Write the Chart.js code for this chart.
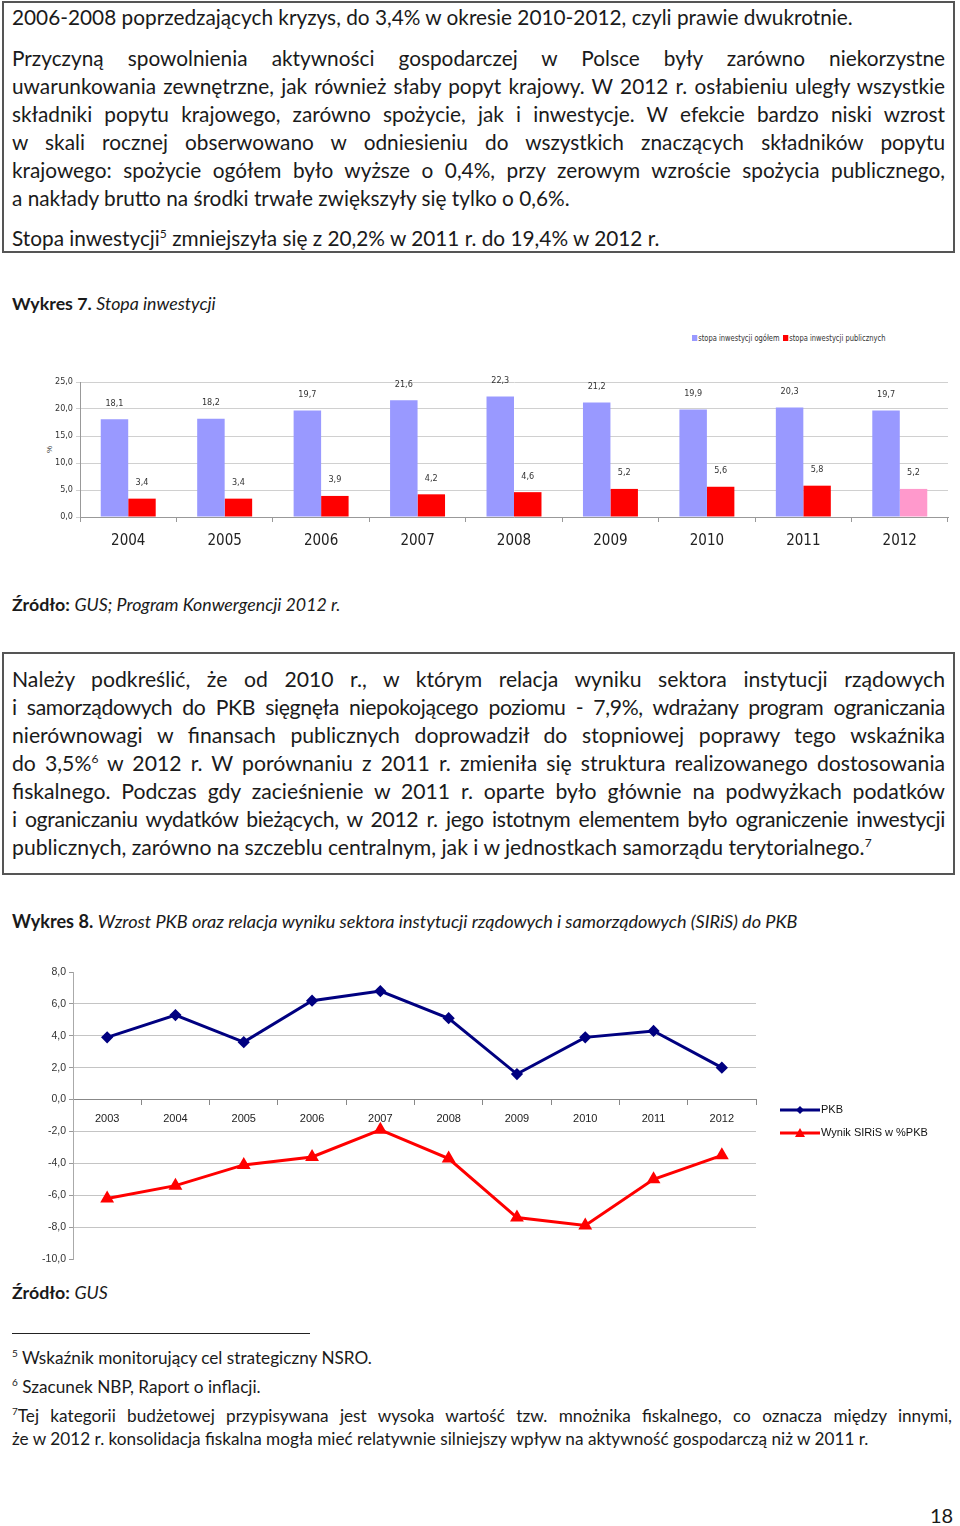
<!DOCTYPE html>
<html lang="pl">
<head>
<meta charset="utf-8">
<title>Wykres 7 i 8</title>
<script src="https://cdn.jsdelivr.net/npm/chart.js@4.4.1/dist/chart.umd.min.js"></script>
<style>
  body { margin: 0; background: #fff; }
  #page { position: relative; width: 960px; height: 1526px; overflow: hidden; font-family: Lato, "Open Sans", sans-serif; color: #1a1a1a; }
  .box { position: absolute; left: 2px; width: 953px; border: 2px solid #555; box-sizing: border-box; }
  .ln { position: absolute; left: 12px; width: 933px; font-size: 20.8px; line-height: 28px; white-space: nowrap; }
  .b2 { font-size: 21.2px; }
  .j { text-align: justify; text-align-last: justify; white-space: normal; }
  .tight { letter-spacing: -0.35px; }
  .ln sup { font-size: 12px; line-height: 0; vertical-align: 8px; }
  .cap { position: absolute; left: 12px; font-size: 17.8px; line-height: 22px; white-space: nowrap; }
  .cap.w8 { font-size: 18.1px; }
  .cap b { font-weight: bold; }
  .cap i { font-style: italic; }
  .fn { position: absolute; left: 12px; width: 940px; font-size: 17.2px; line-height: 22px; white-space: nowrap; }
  .fn sup { font-size: 10px; line-height: 0; vertical-align: 7px; }
  .chartbox { position: absolute; left: 0; width: 960px; }
  .lg1 { position: absolute; top: 333px; font-family: "Liberation Sans Narrow", "DejaVu Sans Condensed", sans-serif; font-size: 8.5px; line-height: 10px; color: #333; white-space: nowrap; transform: scaleX(0.88); transform-origin: left center; }
  .lg1 span.sq { display: inline-block; width: 6px; height: 6px; margin-right: 1px; vertical-align: 0; }
  .lg2 { position: absolute; left: 780px; font-family: "Liberation Sans", Arial, sans-serif; font-size: 11px; line-height: 14px; color: #111; white-space: nowrap; }
  .lg2 svg { vertical-align: middle; margin-right: 1px; }
</style>
</head>
<body>
<div id="page">

  <div class="box" style="top:1px; height:252px;"></div>
  <div class="ln" style="top:3px;">2006-2008 poprzedzających kryzys, do 3,4% w okresie 2010-2012, czyli prawie dwukrotnie.</div>
  <div class="ln j" style="top:44px;">Przyczyną spowolnienia aktywności gospodarczej w Polsce były zarówno niekorzystne</div>
  <div class="ln j" style="top:72px;">uwarunkowania zewnętrzne, jak również słaby popyt krajowy. W 2012 r. osłabieniu uległy wszystkie</div>
  <div class="ln j" style="top:100px;">składniki popytu krajowego, zarówno spożycie, jak i inwestycje. W efekcie bardzo niski wzrost</div>
  <div class="ln j" style="top:128px;">w skali rocznej obserwowano w odniesieniu do wszystkich znaczących składników popytu</div>
  <div class="ln j" style="top:156px;">krajowego: spożycie ogółem było wyższe o 0,4%, przy zerowym wzroście spożycia publicznego,</div>
  <div class="ln" style="top:184px;">a nakłady brutto na środki trwałe zwiększyły się tylko o 0,6%.</div>
  <div class="ln" style="top:224px;">Stopa inwestycji<sup>5</sup> zmniejszyła się z 20,2% w 2011 r. do 19,4% w 2012 r.</div>

  <div class="cap" style="top:292px;"><b>Wykres 7.</b> <i>Stopa inwestycji</i></div>

  <div class="lg1" style="left:692px;"><span class="sq" style="background:#9999ff"></span>stopa inwestycji ogółem</div>
  <div class="lg1" style="left:783px;"><span class="sq" style="background:#ff0000"></span>stopa inwestycji publicznych</div>
  <div style="position:absolute; left:46px; top:445px; font-family:'Liberation Sans Narrow',sans-serif; font-size:8px; transform:rotate(-90deg); color:#333;">%</div>

  <div class="chartbox" style="top:360px; height:200px;"><canvas id="invChart"></canvas></div>

  <div class="cap" style="top:593px;"><b>Źródło:</b> <i>GUS; Program Konwergencji 2012 r.</i></div>

  <div class="box" style="top:652px; height:223px;"></div>
  <div class="ln b2 j" style="top:665px;">Należy podkreślić, że od 2010 r., w którym relacja wyniku sektora instytucji rządowych</div>
  <div class="ln b2 j tight" style="top:693px;">i samorządowych do PKB sięgnęła niepokojącego poziomu - 7,9%, wdrażany program ograniczania</div>
  <div class="ln b2 j" style="top:721px;">nierównowagi w finansach publicznych doprowadził do stopniowej poprawy tego wskaźnika</div>
  <div class="ln b2 j" style="top:749px;">do 3,5%<sup>6</sup> w 2012 r. W porównaniu z 2011 r. zmieniła się struktura realizowanego dostosowania</div>
  <div class="ln b2 j" style="top:777px;">fiskalnego. Podczas gdy zacieśnienie w 2011 r. oparte było głównie na podwyżkach podatków</div>
  <div class="ln b2 j tight" style="top:805px;">i ograniczaniu wydatków bieżących, w 2012 r. jego istotnym elementem było ograniczenie inwestycji</div>
  <div class="ln b2" style="top:833px;">publicznych, zarówno na szczeblu centralnym, jak i w jednostkach samorządu terytorialnego.<sup>7</sup></div>

  <div class="cap w8" style="top:910px;"><b>Wykres 8.</b> <i>Wzrost PKB oraz relacja wyniku sektora instytucji rządowych i samorządowych (SIRiS) do PKB</i></div>

  <div class="chartbox" style="top:960px; height:310px;"><canvas id="gdpChart"></canvas></div>
  <div class="lg2" style="top:1102px;"><svg width="40" height="10"><line x1="0" y1="5" x2="40" y2="5" stroke="#000080" stroke-width="3"/><polygon points="20,1 24,5 20,9 16,5" fill="#000080"/></svg>PKB</div>
  <div class="lg2" style="top:1125px;"><svg width="40" height="10"><line x1="0" y1="5" x2="40" y2="5" stroke="#ff0000" stroke-width="3"/><polygon points="20,0 25,9 15,9" fill="#ff0000"/></svg>Wynik SIRiS w %PKB</div>

  <div class="cap" style="top:1281px;"><b>Źródło:</b> <i>GUS</i></div>

  <div style="position:absolute; left:12px; top:1333px; width:298px; height:1px; background:#222;"></div>
  <div class="fn" style="top:1347px;"><sup>5</sup> Wskaźnik monitorujący cel strategiczny NSRO.</div>
  <div class="fn" style="top:1376px;"><sup>6</sup> Szacunek NBP, Raport o inflacji.</div>
  <div class="fn j" style="top:1405px;"><sup>7</sup>Tej kategorii budżetowej przypisywana jest wysoka wartość tzw. mnożnika fiskalnego, co oznacza między innymi,</div>
  <div class="fn" style="top:1428px;">że w 2012 r. konsolidacja fiskalna mogła mieć relatywnie silniejszy wpływ na aktywność gospodarczą niż w 2011 r.</div>

  <div style="position:absolute; left:930px; top:1502px; font-size:20px; line-height:26px;">18</div>
</div>

<script>
// Wykres 7 - stopa inwestycji (% PKB)
const invYears = ['2004', '2005', '2006', '2007', '2008', '2009', '2010', '2011', '2012'];
const invTotal = [18.1, 18.2, 19.7, 21.6, 22.3, 21.2, 19.9, 20.3, 19.7];
const invPublic = [3.4, 3.4, 3.9, 4.2, 4.6, 5.2, 5.6, 5.8, 5.2];

// Wykres 8 - wzrost PKB i wynik SIRiS (% PKB)
const gdpYears = ['2003', '2004', '2005', '2006', '2007', '2008', '2009', '2010', '2011', '2012'];
const gdpGrowth = [3.9, 5.3, 3.6, 6.2, 6.8, 5.1, 1.6, 3.9, 4.3, 2.0];
const govBalance = [-6.2, -5.4, -4.1, -3.6, -1.9, -3.7, -7.4, -7.9, -5.0, -3.5];

const comma = v => Number(v).toFixed(1).replace('.', ',');
const narrow = '"Liberation Sans Narrow", "DejaVu Sans Condensed", sans-serif';

// value labels above the bars
const barLabels = {
    id: 'barLabels',
    afterDatasetsDraw(chart) {
        const ctx = chart.ctx;
        ctx.save();
        ctx.font = '9px ' + narrow;
        ctx.fillStyle = '#333';
        ctx.textAlign = 'center';
        ctx.textBaseline = 'middle';
        chart.data.datasets.forEach((ds, i) => {
            chart.getDatasetMeta(i).data.forEach((bar, j) => {
                ctx.fillText(comma(ds.data[j]), bar.x, bar.y - 16);
            });
        });
        ctx.restore();
    }
};

const publicColors = invPublic.map((v, i) => i === invPublic.length - 1 ? '#ff99cc' : '#ff0000');

new Chart(document.getElementById('invChart'), {
    type: 'bar',
    data: {
        labels: invYears,
        datasets: [
            { label: 'stopa inwestycji ogółem', data: invTotal, backgroundColor: '#9999ff' },
            { label: 'stopa inwestycji publicznych', data: invPublic, backgroundColor: publicColors }
        ]
    },
    options: {
        responsive: true,
        maintainAspectRatio: false,
        animation: false,
        layout: { padding: { top: 22, right: 12, left: 0, bottom: 0 } },
        datasets: { bar: { categoryPercentage: 0.57, barPercentage: 1.0 } },
        plugins: { legend: { display: false }, tooltip: { enabled: false } },
        scales: {
            x: {
                grid: { drawOnChartArea: false, tickLength: 5, color: '#999' },
                border: { color: '#999' },
                ticks: { padding: 10, color: '#222', font: { family: narrow, size: 15 } },
                afterFit: s => { s.height = 43; }
            },
            y: {
                min: 0, max: 25,
                ticks: { stepSize: 5, padding: 3, color: '#333', font: { family: narrow, size: 9 }, callback: comma },
                grid: { color: '#d0d0d0', tickLength: 4 },
                border: { color: '#999' },
                afterFit: s => { s.width = 80; }
            }
        }
    },
    plugins: [barLabels]
});

new Chart(document.getElementById('gdpChart'), {
    type: 'line',
    data: {
        labels: gdpYears,
        datasets: [
            {
                label: 'PKB', data: gdpGrowth,
                borderColor: '#000080', backgroundColor: '#000080', borderWidth: 3,
                pointStyle: 'rectRot', pointRadius: 4, tension: 0
            },
            {
                label: 'Wynik SIRiS w %PKB', data: govBalance,
                borderColor: '#ff0000', backgroundColor: '#ff0000', borderWidth: 3,
                pointStyle: 'triangle', pointRadius: 5, tension: 0
            }
        ]
    },
    options: {
        responsive: true,
        maintainAspectRatio: false,
        animation: false,
        layout: { padding: { top: 12, right: 204, left: 0, bottom: 11 } },
        plugins: { legend: { display: false }, tooltip: { enabled: false } },
        scales: {
            x: {
                position: { y: 0 },
                offset: true,
                grid: { offset: true, drawOnChartArea: false, tickLength: 5, color: '#888' },
                border: { color: '#888' },
                ticks: { padding: 8, color: '#222', font: { family: '"Liberation Sans", Arial, sans-serif', size: 11 } }
            },
            y: {
                min: -10, max: 8,
                ticks: { stepSize: 2, padding: 3, color: '#333', font: { family: '"Liberation Sans", Arial, sans-serif', size: 10.5 }, callback: comma },
                grid: {
                    tickLength: 4,
                    color: c => (c.tick && (c.tick.value === 8 || c.tick.value === -10 || c.tick.value === 0)) ? 'rgba(0,0,0,0)' : '#c4c4c4',
                    tickColor: '#999'
                },
                border: { color: '#aaa' },
                afterFit: s => { s.width = 73; }
            }
        }
    }
});
</script>
</body>
</html>
